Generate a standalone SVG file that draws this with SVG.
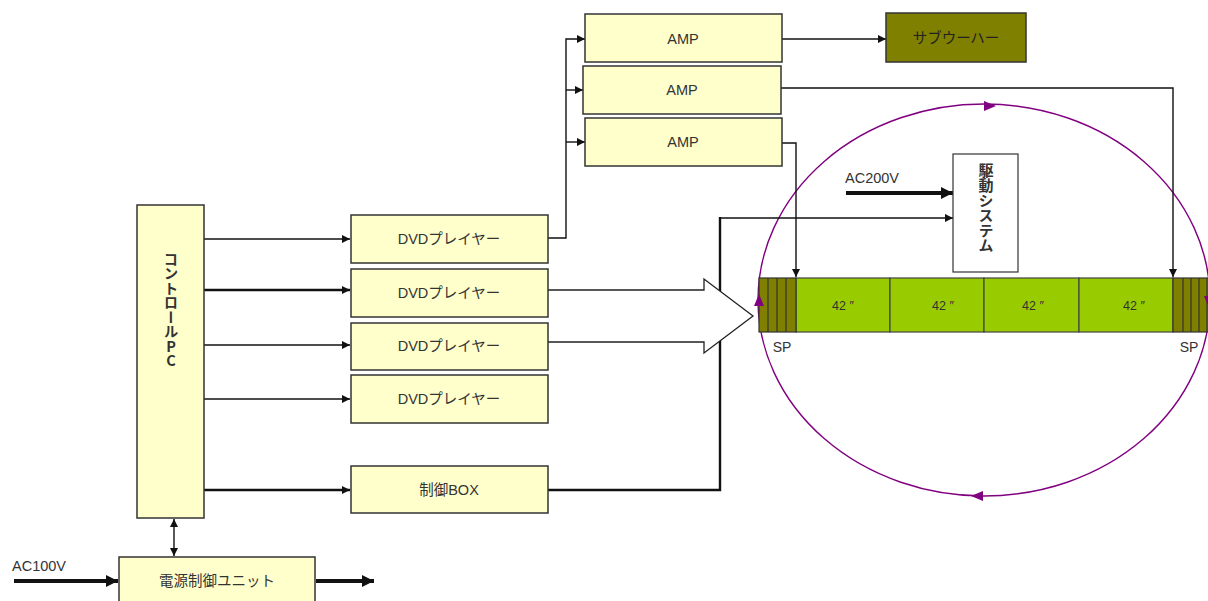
<svg xmlns="http://www.w3.org/2000/svg" width="1208" height="601" viewBox="0 0 1208 601">
<defs>
<style>
.box{fill:#ffffcc;stroke:#333;stroke-width:1.5}
.sub{fill:#7f7f00;stroke:#333;stroke-width:1.5}
.t{font-family:"Liberation Sans","Noto Sans CJK JP",sans-serif;font-size:14.5px;fill:#333;text-anchor:middle}
.w{fill:none;stroke:#111;stroke-width:1.4}
.k{fill:none;stroke:#111;stroke-width:2.4}
.kk{fill:none;stroke:#111;stroke-width:4}
.panel{fill:#99cc00;stroke:#444;stroke-width:1.2}
.sp{fill:#808000;stroke:#333;stroke-width:1.2}
.vt{font-family:"Noto Sans CJK JP",sans-serif;font-size:14.5px;font-weight:bold;fill:#333;writing-mode:vertical-rl;text-orientation:upright}
</style>
<marker id="a" viewBox="0 0 10 10" refX="10" refY="5" markerWidth="8" markerHeight="8" markerUnits="userSpaceOnUse" orient="auto-start-reverse"><path d="M0,0L10,5L0,10z" fill="#111"/></marker>
<marker id="ab" viewBox="0 0 10 10" refX="10" refY="5" markerWidth="12" markerHeight="12" markerUnits="userSpaceOnUse" orient="auto"><path d="M0,0L10,5L0,10z" fill="#111"/></marker>
</defs>
<rect width="1208" height="601" fill="#fff"/>

<g id="ring">
<ellipse cx="984" cy="300" rx="226" ry="196" fill="none" stroke="#800080" stroke-width="1.4"/>
<path d="M984,101L996,106L984,111z" fill="#800080"/>
<path d="M983,491L971,496L983,501z" fill="#800080"/>
</g>

<g id="connectors">
<path class="w" d="M204,239H350" marker-end="url(#a)"/>
<path class="k" d="M204,290H350" marker-end="url(#a)"/>
<path class="w" d="M204,345H350" marker-end="url(#a)"/>
<path class="w" d="M204,399H350" marker-end="url(#a)"/>
<path class="k" d="M204,490H350" marker-end="url(#a)"/>
<path class="w" d="M174,519V556" marker-start="url(#a)" marker-end="url(#a)"/>
<path class="kk" d="M14,581H118" marker-end="url(#ab)"/>
<path class="kk" d="M316,581H374" marker-end="url(#ab)"/>
<path class="w" d="M548,238H566V39H585" marker-end="url(#a)"/>
<path class="w" d="M566,90H583" marker-end="url(#a)"/>
<path class="w" d="M566,142H585" marker-end="url(#a)"/>
<path class="w" d="M782,39H886" marker-end="url(#a)"/>
<path class="w" d="M781,88H1173V277" marker-end="url(#a)"/>
<path class="w" d="M782,143H796V277" marker-end="url(#a)"/>
<path class="k" d="M548,490H720V217"/>
<path class="w" d="M720,218H953" marker-end="url(#a)"/>
<path class="kk" d="M846,193H953" marker-end="url(#ab)"/>
<path d="M548,290H704V279L753,316L704,353V342H548" fill="#fff" stroke="#222" stroke-width="1.3"/>
</g>

<g id="pc"><rect class="box" x="137" y="205" width="67" height="313"/>
<text class="vt" x="171" y="252">コントロールPC</text></g>

<g id="dvd1"><rect class="box" x="351" y="215" width="197" height="48"/><text class="t" x="449" y="244">DVDプレイヤー</text></g>
<g id="dvd2"><rect class="box" x="351" y="269" width="197" height="48"/><text class="t" x="449" y="298">DVDプレイヤー</text></g>
<g id="dvd3"><rect class="box" x="351" y="323" width="197" height="47"/><text class="t" x="449" y="351">DVDプレイヤー</text></g>
<g id="dvd4"><rect class="box" x="351" y="375" width="197" height="48"/><text class="t" x="449" y="404">DVDプレイヤー</text></g>
<g id="ctrlbox"><rect class="box" x="351" y="466" width="197" height="47"/><text class="t" x="449" y="495">制御BOX</text></g>
<g id="power"><rect class="box" x="119" y="557" width="196" height="50"/><text class="t" x="217" y="586">電源制御ユニット</text></g>
<g id="ac100"><text class="t" x="12" y="571" style="text-anchor:start">AC100V</text></g>

<g id="amp1"><rect class="box" x="585" y="14" width="197" height="48"/><text class="t" x="683" y="44">AMP</text></g>
<g id="amp2"><rect class="box" x="583" y="66" width="198" height="48"/><text class="t" x="682" y="95">AMP</text></g>
<g id="amp3"><rect class="box" x="585" y="118" width="197" height="48"/><text class="t" x="683" y="147">AMP</text></g>
<g id="sub"><rect class="sub" x="886" y="13" width="140" height="49"/><text class="t" x="956" y="43" style="fill:#222">サブウーハー</text></g>

<g id="drive"><rect x="953" y="154" width="65" height="118" fill="#fff" stroke="#333" stroke-width="1.2"/>
<text class="vt" x="986" y="163" style="font-size:15px">駆動システム</text></g>
<g id="ac200"><text class="t" x="845" y="183" style="text-anchor:start">AC200V</text></g>

<g id="screen">
<rect class="panel" x="796" y="278" width="94" height="54"/>
<rect class="panel" x="890" y="278" width="94" height="54"/>
<rect class="panel" x="984" y="278" width="95" height="54"/>
<rect class="panel" x="1079" y="278" width="94" height="54"/>
<text class="t" x="843" y="310" style="font-size:12.5px">42 ″</text>
<text class="t" x="943" y="310" style="font-size:12.5px">42 ″</text>
<text class="t" x="1033" y="310" style="font-size:12.5px">42 ″</text>
<text class="t" x="1134" y="310" style="font-size:12.5px">42 ″</text>
</g>
<g id="spL">
<rect class="sp" x="759" y="278" width="37" height="54"/>
<path d="M768,278V332M777,278V332M786,278V332" stroke="#333" stroke-width="1.2"/>
<text class="t" x="782" y="352" style="font-size:14px">SP</text>
</g>
<g id="spR">
<rect class="sp" x="1173" y="278" width="36" height="54"/>
<path d="M1183,278V332M1191,278V332M1199,278V332M1207,278V332" stroke="#333" stroke-width="1.2"/>
<text class="t" x="1189" y="352" style="font-size:14px">SP</text>
</g>
<path d="M754,306L759,294L764,306z" fill="#800080"/>
<path d="M1204,296L1209,308L1214,296z" fill="#800080"/>
</svg>
